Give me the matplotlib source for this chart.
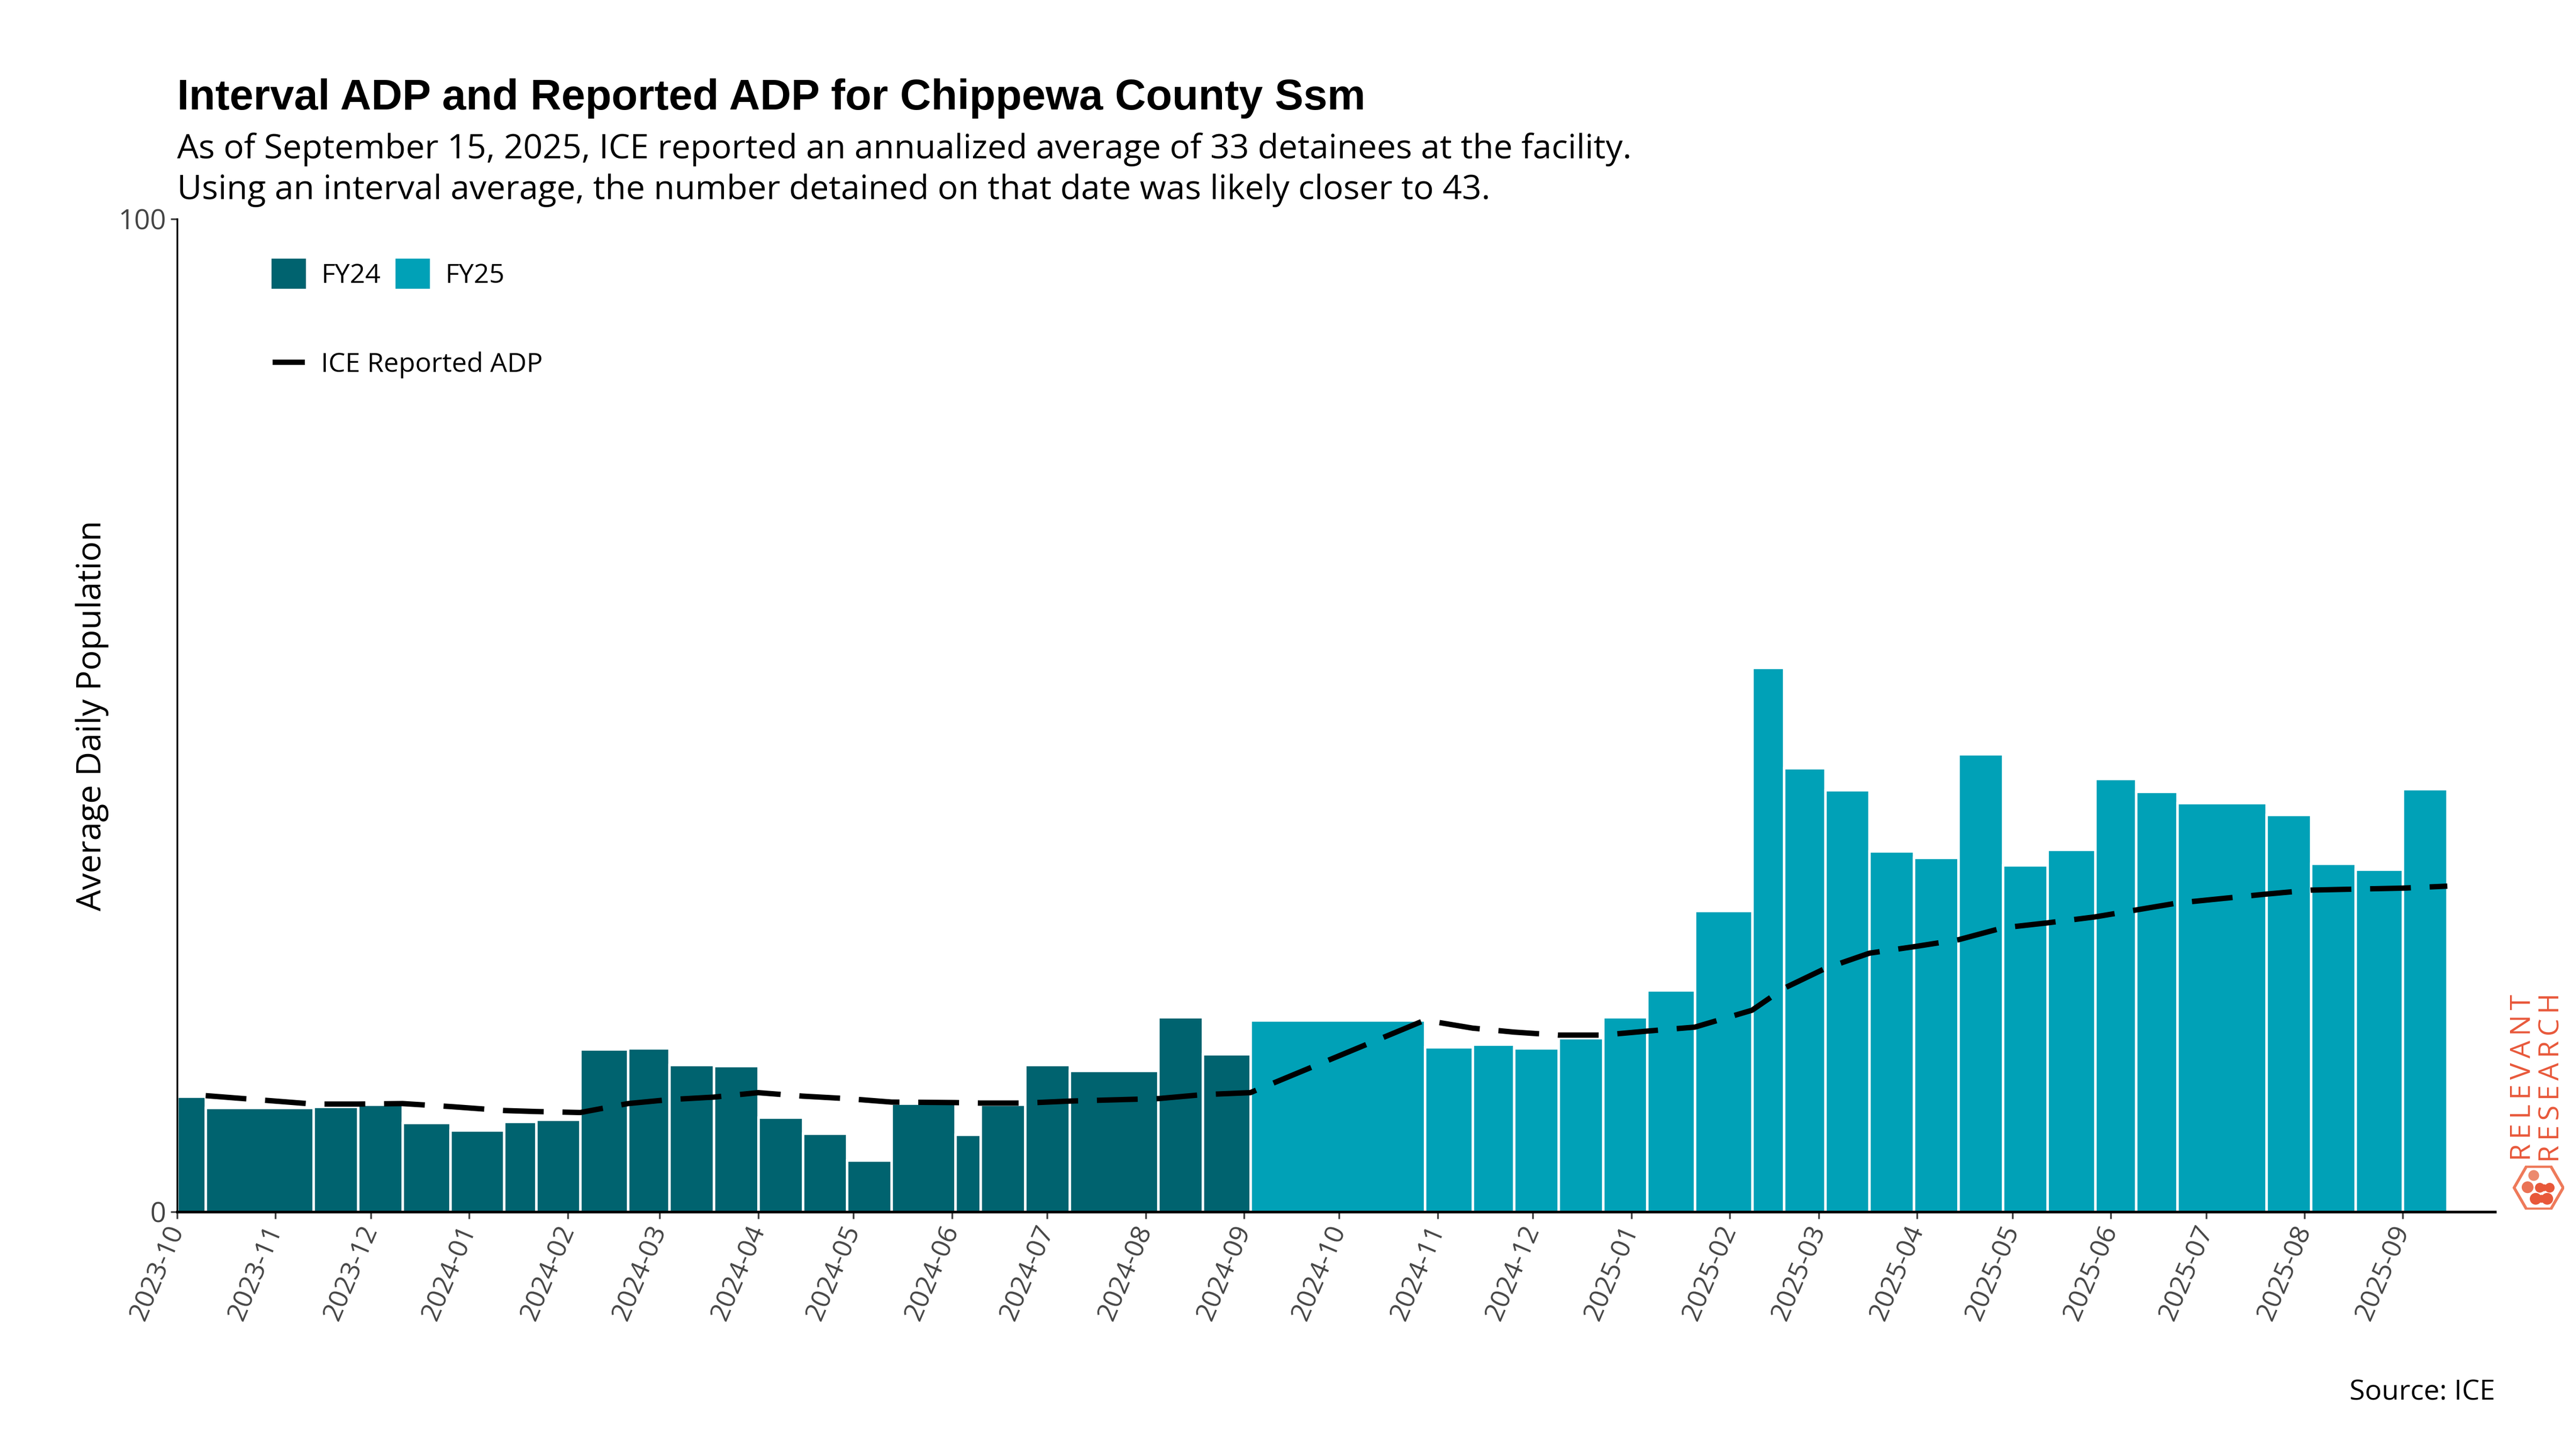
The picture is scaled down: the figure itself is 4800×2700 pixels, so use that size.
import matplotlib

matplotlib.use("Agg")

import matplotlib.dates as mdates
import matplotlib.pyplot as plt
import numpy as np
import pandas as pd
from matplotlib.lines import Line2D
from matplotlib.patches import Circle, Patch, RegularPolygon

# interval edges = ICE report dates (first edge = start of the period)
FY24_EDGES = [
    "2023-10-01", "2023-10-10", "2023-11-13", "2023-11-27", "2023-12-11",
    "2023-12-26", "2024-01-12", "2024-01-22", "2024-02-05", "2024-02-20",
    "2024-03-04", "2024-03-18", "2024-04-01", "2024-04-15", "2024-04-29",
    "2024-05-13", "2024-06-02", "2024-06-10", "2024-06-24", "2024-07-08",
    "2024-08-05", "2024-08-19", "2024-09-03",
]
FY24_INTERVAL_ADP = [
    11.6, 10.5, 10.6, 10.8, 9.0, 8.2, 9.1, 9.3, 16.4, 16.5, 14.8,
    14.7, 9.5, 7.9, 5.2, 10.9, 7.8, 10.8, 14.8, 14.2, 19.6, 15.9,
]
FY24_REPORTED_ADP = [
    11.7, 10.85, 10.85, 10.9, 10.6, 10.2, 10.1, 10.0, 10.9, 11.3, 11.55,
    12.0, 11.65, 11.4, 11.05, 11.0, 10.95, 10.95, 11.15, 11.4, 11.8, 12.0,
]

FY25_EDGES = [
    "2024-09-03", "2024-10-28", "2024-11-12", "2024-11-25", "2024-12-09",
    "2024-12-23", "2025-01-06", "2025-01-21", "2025-02-08", "2025-02-18",
    "2025-03-03", "2025-03-17", "2025-03-31", "2025-04-14", "2025-04-28",
    "2025-05-12", "2025-05-27", "2025-06-09", "2025-06-22", "2025-07-20",
    "2025-08-03", "2025-08-17", "2025-09-01", "2025-09-15",
]
FY25_INTERVAL_ADP = [
    19.3, 16.6, 16.85, 16.5, 17.5, 19.6, 22.3, 30.3, 54.8, 44.7, 42.5,
    36.3, 35.7, 46.1, 34.9, 36.5, 43.6, 42.3, 41.2, 40.0, 35.1, 34.5, 42.6,
]
FY25_REPORTED_ADP = [
    19.3, 18.5, 18.1, 17.8, 17.8, 18.2, 18.6, 20.3, 22.5, 24.5, 26.05,
    26.7, 27.4, 28.6, 29.1, 29.7, 30.4, 31.1, 32.0, 32.4, 32.5, 32.6, 32.8,
]

FY24_COLOR = "#00636f"
FY25_COLOR = "#00a1b7"
LOGO_COLOR = "#e8583a"
TICK_COLOR = "#444444"
BASE_FONT = ["Open Sans", "DejaVu Sans"]

plt.rcParams["font.family"] = BASE_FONT

fig = plt.figure(figsize=(16, 9), dpi=300)
ax = fig.add_axes([0.06875, 0.1637, 0.8998, 0.6852])

for edges, values, color in [
    (FY24_EDGES, FY24_INTERVAL_ADP, FY24_COLOR),
    (FY25_EDGES, FY25_INTERVAL_ADP, FY25_COLOR),
]:
    x = mdates.date2num(pd.to_datetime(edges))
    ax.bar(x[:-1], values, width=np.diff(x), align="edge", color=color,
           edgecolor="white", linewidth=1.1)

report_dates = pd.to_datetime(FY24_EDGES[1:] + FY25_EDGES[1:])
reported = FY24_REPORTED_ADP + FY25_REPORTED_ADP
ax.plot(mdates.date2num(report_dates), reported, color="black", lw=2.4,
        dashes=(7.6, 3.5), zorder=3)

ax.set_xlim(mdates.date2num(pd.Timestamp("2023-10-01")),
            mdates.date2num(pd.Timestamp("2025-09-30")))
ax.set_ylim(0, 100)
ax.set_yticks([0, 100])
ax.xaxis.set_major_locator(mdates.MonthLocator())
ax.xaxis.set_major_formatter(mdates.DateFormatter("%Y-%m"))
ax.tick_params(axis="both", colors=TICK_COLOR, labelsize=12, length=3,
               width=0.8)
ax.tick_params(axis="y", labelsize=12.5, pad=2)
for label in ax.get_xticklabels():
    label.set_rotation(67)
    label.set_ha("right")
    label.set_va("center")
    label.set_rotation_mode("anchor")

for side in ["top", "right"]:
    ax.spines[side].set_visible(False)
ax.spines["left"].set_linewidth(0.8)
ax.spines["bottom"].set_linewidth(1.2)

ax.set_ylabel("Average Daily Population", fontsize=15, labelpad=4)

fy_legend = ax.legend(
    handles=[Patch(color=FY24_COLOR, label="FY24"),
             Patch(color=FY25_COLOR, label="FY25")],
    loc="center left", bbox_to_anchor=(0.0412, 0.944), ncol=2,
    frameon=False, fontsize=12, handlelength=1.2, handleheight=1.2,
    handletextpad=0.6, columnspacing=0.6, borderpad=0, borderaxespad=0,
)
ax.add_artist(fy_legend)
ax.legend(
    handles=[Line2D([], [], color="black", lw=2.4, dashes=(7.6, 3.5),
                    label="ICE Reported ADP")],
    loc="center left", bbox_to_anchor=(0.0412, 0.853), frameon=False,
    fontsize=12, handlelength=1.2, handletextpad=0.6, borderpad=0,
    borderaxespad=0,
)

fig.text(0.06875, 0.932, "Interval ADP and Reported ADP for Chippewa County Ssm",
         fontsize=19.2, fontweight="bold", family=["Liberation Sans", "DejaVu Sans"],
         va="center", ha="left")
fig.text(0.06875, 0.897,
         "As of September 15, 2025, ICE reported an annualized average of 33 detainees at the facility.",
         fontsize=15.2, va="center", ha="left")
fig.text(0.06875, 0.8685,
         "Using an interval average, the number detained on that date was likely closer to 43.",
         fontsize=15.2, va="center", ha="left")
fig.text(0.9685, 0.039, "Source: ICE", fontsize=12.5, ha="right", va="center")

# logo
fig.text(0.9794, 0.2563, "\u2009".join("RELEVANT"), rotation=90,
         color=LOGO_COLOR, fontsize=12.5, ha="center", va="center")
fig.text(0.9906, 0.2563, "\u2009".join("RESEARCH"), rotation=90,
         color=LOGO_COLOR, fontsize=12.5, ha="center", va="center")
logo = fig.add_axes([0.9755, 0.1625, 0.02, 0.0356])
logo.set_xlim(-1.05, 1.05)
logo.set_ylim(-0.9, 0.9)
logo.set_aspect("equal")
logo.axis("off")
logo.add_patch(RegularPolygon((0, 0), 6, radius=1.0, orientation=np.pi / 6,
                              fill=False, edgecolor="#ee7a5a", lw=1.3))
for cx, cy, r, c in [
    (-0.2, 0.5, 0.22, "#ec8a6e"),
    (-0.45, 0.02, 0.24, "#ea7255"),
    (0.05, 0.0, 0.2, LOGO_COLOR),
    (0.45, 0.0, 0.2, LOGO_COLOR),
    (0.22, 0.0, 0.14, LOGO_COLOR),
    (-0.12, -0.45, 0.24, LOGO_COLOR),
    (0.35, -0.45, 0.24, LOGO_COLOR),
    (0.12, -0.45, 0.16, LOGO_COLOR),
]:
    logo.add_patch(Circle((cx, cy), r, color=c, lw=0))

fig.savefig("out.png", dpi=300)
plt.close(fig)
